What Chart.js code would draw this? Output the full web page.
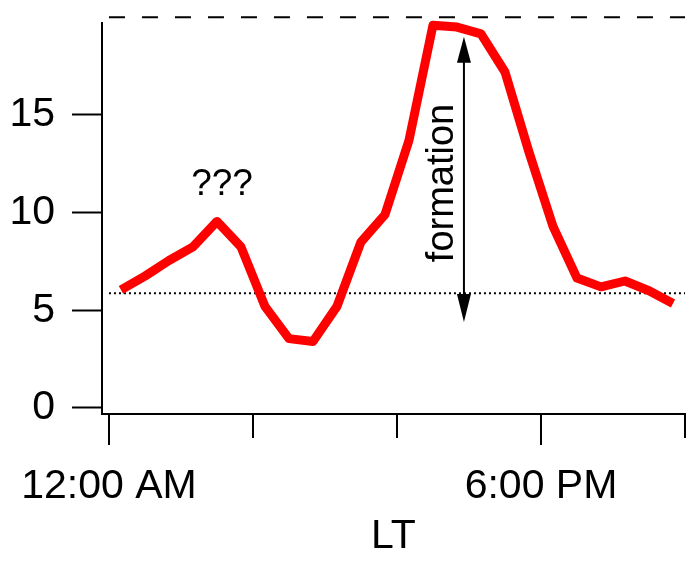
<!DOCTYPE html>
<html>
<head>
<meta charset="utf-8">
<script src="https://cdn.jsdelivr.net/npm/chart.js@4"></script>
<style>
	html, body { margin: 0; padding: 0; background: #fff; }
	#wrap { width: 691px; height: 561px; }
</style>
</head>
<body>
<div id="wrap"><canvas id="chart" width="691" height="561"></canvas></div>
<script>
// Local time (hours) and values.
var hours = [ 0.5, 1.5, 2.5, 3.5, 4.5, 5.5, 6.5, 7.5, 8.5, 9.5, 10.5, 11.5,
	12.5, 13.5, 14.5, 15.5, 16.5, 17.5, 18.5, 19.5, 20.5, 21.5, 22.5, 23.5 ];
var values = [ 6.05, 6.75, 7.55, 8.25, 9.55, 8.25, 5.2, 3.55, 3.4, 5.2, 8.5, 9.9,
	13.7, 19.6, 19.5, 19.15, 17.2, 13.1, 9.3, 6.65, 6.2, 6.5, 6.0, 5.35 ];

var xTickValues = [ 0, 6, 12, 18, 24 ];
var xTickLabels = [ '12:00 AM', '', '', '6:00 PM', '' ];
var xTickLong   = [ true, false, false, true, false ];
var yTickValues = [ 0, 5, 10, 15 ];

var baseline = 5.87;   // dotted reference
var maxLevel = 20;     // dashed reference
var arrowX = 14.79, arrowTop = 19.0, arrowBottom = 4.4;

var FONT = '"Liberation Sans", Arial, sans-serif';

function pairs( xs, ys ) {
	return xs.map( function ( x, i ) { return { x: x, y: ys[ i ] }; } );
}

var annotations = {
	id: 'annotations',
	afterDatasetsDraw: function ( chart ) {
		var ctx = chart.ctx;
		var xs = chart.scales.x;
		var ys = chart.scales.y;
		ctx.save();

		// x tick marks, two lengths
		ctx.strokeStyle = '#000';
		ctx.lineWidth = 2;
		xTickValues.forEach( function ( v, i ) {
			var px = Math.round( xs.getPixelForValue( v ) );
			ctx.beginPath();
			ctx.moveTo( px, xs.top );
			ctx.lineTo( px, xs.top + ( xTickLong[ i ] ? 31 : 24 ) );
			ctx.stroke();
		} );

		// double arrow
		var ax = xs.getPixelForValue( arrowX );
		var top = ys.getPixelForValue( arrowTop );
		var bot = ys.getPixelForValue( arrowBottom );
		ctx.beginPath();
		ctx.moveTo( ax, top + 20 );
		ctx.lineTo( ax, bot - 20 );
		ctx.stroke();
		ctx.fillStyle = '#000';
		ctx.beginPath();
		ctx.moveTo( ax, top );
		ctx.lineTo( ax - 7, top + 26 );
		ctx.lineTo( ax + 7, top + 26 );
		ctx.closePath();
		ctx.fill();
		ctx.beginPath();
		ctx.moveTo( ax, bot );
		ctx.lineTo( ax - 7, bot - 28 );
		ctx.lineTo( ax + 7, bot - 28 );
		ctx.closePath();
		ctx.fill();

		// texts
		ctx.font = '37px ' + FONT;
		ctx.textBaseline = 'alphabetic';
		ctx.textAlign = 'center';
		ctx.fillText( '???', xs.getPixelForValue( 4.71 ), ys.getPixelForValue( 10.9 ) );

		ctx.font = '38px ' + FONT;
		ctx.translate( xs.getPixelForValue( 14.33 ), ys.getPixelForValue( 11.52 ) );
		ctx.rotate( -Math.PI / 2 );
		ctx.fillText( 'formation', 0, 0 );
		ctx.restore();
	}
};

new Chart( document.getElementById( 'chart' ).getContext( '2d' ), {
	type: 'line',
	data: {
		datasets: [ {
			data: pairs( hours, values ),
			borderColor: '#ff0000',
			borderWidth: 9,
			borderJoinStyle: 'round',
			pointRadius: 0,
			tension: 0,
			clip: false
		}, {
			data: pairs( [ 0, 24 ], [ baseline, baseline ] ),
			borderColor: '#000',
			borderWidth: 2,
			borderDash: [ 2, 3 ],
			pointRadius: 0,
			clip: false
		}, {
			data: pairs( [ 0, 24 ], [ maxLevel, maxLevel ] ),
			borderColor: '#000',
			borderWidth: 2,
			borderDash: [ 16, 17 ],
			pointRadius: 0,
			clip: false
		} ]
	},
	options: {
		responsive: false,
		animation: false,
		layout: { padding: { top: 23, right: 6, left: 10, bottom: 0 } },
		plugins: {
			legend: { display: false },
			tooltip: { enabled: false }
		},
		scales: {
			x: {
				type: 'linear',
				min: -0.29,
				max: 24,
				afterBuildTicks: function ( scale ) {
					scale.ticks = xTickValues.map( function ( v ) { return { value: v }; } );
				},
				afterFit: function ( scale ) {
					scale.height = 147;
					scale.paddingLeft = 0;
					scale.paddingRight = 0;
				},
				grid: { display: false },
				border: { display: true, color: '#000', width: 2 },
				ticks: {
					padding: 40,
					color: '#000',
					maxRotation: 0,
					autoSkip: false,
					font: { family: FONT, size: 41 },
					callback: function ( v ) {
						var i = xTickValues.indexOf( v );
						return i >= 0 ? xTickLabels[ i ] : '';
					}
				},
				title: {
					display: true,
					text: 'LT',
					color: '#000',
					font: { family: FONT, size: 41 },
					padding: { top: 0, bottom: 0 }
				}
			},
			y: {
				min: -0.31,
				max: 19.71,
				afterBuildTicks: function ( scale ) {
					scale.ticks = yTickValues.map( function ( v ) { return { value: v }; } );
				},
				afterFit: function ( scale ) {
					scale.width = 92;
					scale.paddingTop = 0;
					scale.paddingBottom = 0;
				},
				grid: {
					drawOnChartArea: false,
					tickLength: 30,
					tickColor: '#000',
					tickWidth: 2
				},
				border: { display: true, color: '#000', width: 2 },
				ticks: {
					padding: 17,
					color: '#000',
					font: { family: FONT, size: 41 }
				}
			}
		}
	},
	plugins: [ annotations ]
} );
</script>
</body>
</html>
